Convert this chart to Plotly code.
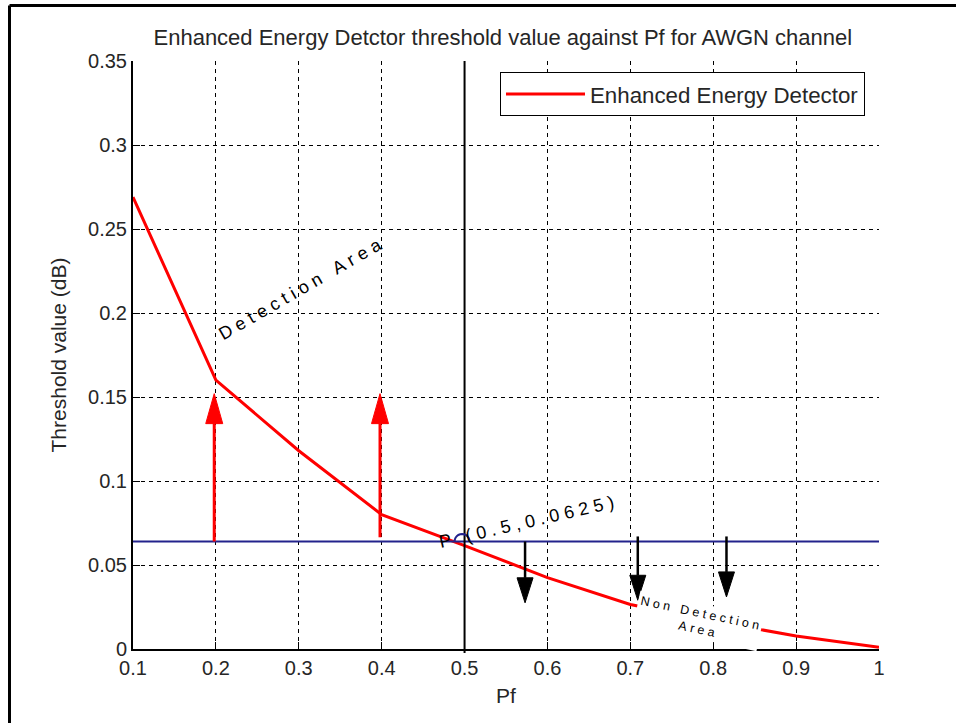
import math
import plotly.graph_objects as go

# ---- data ----
pf = [0.1, 0.2, 0.3, 0.4, 0.5, 0.6, 0.7, 0.8, 0.9, 1.0]
threshold = [0.269, 0.160, 0.118, 0.080, 0.0615, 0.0425, 0.0265, 0.0165, 0.0078, 0.001]
threshold_level = 0.064          # horizontal reference line (P = 0.0625)
cross_pf = 0.5                   # vertical line
up_arrow_x = [0.198, 0.398]
up_arrow_from = [0.064, 0.0665]
up_arrow_to = [0.152, 0.152]
down_arrow_x = [0.573, 0.709, 0.816]
down_arrow_from = [0.064, 0.067, 0.067]
down_arrow_to = [0.0275, 0.029, 0.031]
x_ticks = [0.1, 0.2, 0.3, 0.4, 0.5, 0.6, 0.7, 0.8, 0.9, 1.0]
x_tick_text = ["0.1", "0.2", "0.3", "0.4", "0.5", "0.6", "0.7", "0.8", "0.9", "1"]
y_ticks = [0, 0.05, 0.1, 0.15, 0.2, 0.25, 0.3, 0.35]
y_tick_text = ["0", "0.05", "0.1", "0.15", "0.2", "0.25", "0.3", "0.35"]

W, H = 956, 723
ML, MR, MT, MB = 133, 77, 61, 74
PW, PH = W - ML - MR, H - MT - MB
XR, YR = (0.1, 1.0), (0.0, 0.35)
px_x = (XR[1] - XR[0]) / PW   # data units per pixel
px_y = (YR[1] - YR[0]) / PH

FONT = "Liberation Sans, Arial, sans-serif"
TXT = "#262626"
NAVY = "#23238c"

fig = go.Figure()
fig.add_trace(go.Scatter(x=pf, y=threshold, mode="lines",
                         line=dict(color="#ff0000", width=3),
                         name="Enhanced Energy Detector", showlegend=True))

shapes = []
# horizontal threshold line
shapes.append(dict(type="line", xref="x", yref="y", x0=XR[0], x1=XR[1],
                   y0=threshold_level, y1=threshold_level,
                   line=dict(color=NAVY, width=2)))
# vertical line at Pf = 0.5
shapes.append(dict(type="line", xref="x", yref="paper", x0=cross_pf, x1=cross_pf,
                   y0=-0.007, y1=1, line=dict(color="black", width=2)))
# blue arc (upper half circle, radius ~7.5 px) at the crossing point
cx = cross_pf - 0.003
r_px = 7.5
pts = []
for i in range(0, 13):
    t = math.pi * i / 12
    pts.append((cx + r_px * math.cos(t) * px_x, threshold_level + r_px * math.sin(t) * px_y))
arc_path = "M " + " L ".join(f"{a},{b}" for a, b in pts)
shapes.append(dict(type="path", xref="x", yref="y", path=arc_path,
                   line=dict(color=NAVY, width=2), layer="above"))


def arrow(x, y0, y1, color, lw, head_len, head_w):
    d = 1 if y1 > y0 else -1
    base = y1 - d * head_len * px_y
    hw = head_w / 2 * px_x
    out = [dict(type="line", xref="x", yref="y", x0=x, x1=x, y0=y0, y1=base,
                line=dict(color=color, width=lw), layer="above"),
           dict(type="path", xref="x", yref="y",
                path=f"M {x - hw},{base} L {x + hw},{base} L {x},{y1} Z",
                fillcolor=color, line=dict(color=color, width=1), layer="above")]
    return out


for x, a, b in zip(up_arrow_x, up_arrow_from, up_arrow_to):
    shapes += arrow(x, a, b, "#ff0000", 3, 30, 17)
for x, a, b in zip(down_arrow_x, down_arrow_from, down_arrow_to):
    shapes += arrow(x, a, b, "black", 2.5, 25, 16)

# outer figure frame (left and top edges)
fx0 = (9.5 - ML) / PW
fy1 = 1 + (MT - 5.5) / PH
shapes.append(dict(type="line", xref="paper", yref="paper", x0=fx0, x1=fx0,
                   y0=-(MB + 5) / PH, y1=fy1, line=dict(color="black", width=3)))
shapes.append(dict(type="line", xref="paper", yref="paper", x0=fx0, x1=(W - ML + 5) / PW,
                   y0=fy1, y1=fy1, line=dict(color="black", width=3)))


def spaced(s):
    return "\u00a0".join(list(s)).replace("\u00a0 \u00a0", "\u00a0\u00a0\u00a0")


annotations = [
    dict(text=spaced("Detection Area"), x=0.302, y=0.214, xref="x", yref="y",
         showarrow=False, textangle=-30, font=dict(family=FONT, size=18, color="black")),
    dict(text="P\u00a0\u00a0\u00a0" + spaced("(0.5,0.0625)"), x=0.575, y=0.0757,
         xref="x", yref="y",
         showarrow=False, textangle=-13, font=dict(family=FONT, size=18, color="black")),
    dict(text=spaced("Non Detection") + "<br>" + spaced("Area"), x=0.782, y=0.0168,
         xref="x", yref="y", showarrow=False, textangle=12, bgcolor="white",
         font=dict(family=FONT, size=12.5, color="black"), borderpad=2),
]

fig.update_layout(
    width=W, height=H,
    margin=dict(l=ML, r=MR, t=MT, b=MB, pad=0),
    paper_bgcolor="white", plot_bgcolor="white",
    font=dict(family=FONT, color=TXT, size=20),
    title=dict(text="Enhanced Energy Detctor threshold value against Pf for AWGN channel",
               x=0.526, xanchor="center", y=1 - 37 / H, yanchor="middle",
               font=dict(family=FONT, size=22, color=TXT)),
    xaxis=dict(range=list(XR), tickvals=x_ticks, ticktext=x_tick_text,
               showgrid=True, gridcolor="black", griddash="4px,4px", gridwidth=1,
               showline=True, linecolor="black", linewidth=2, mirror=False,
               ticks="inside", ticklen=7, tickcolor="black", zeroline=False,
               tickfont=dict(size=20, color=TXT),
               title=dict(text="Pf", standoff=10, font=dict(size=21, color=TXT))),
    yaxis=dict(range=list(YR), tickvals=y_ticks, ticktext=y_tick_text,
               showgrid=True, gridcolor="black", griddash="4px,4px", gridwidth=1,
               showline=True, linecolor="black", linewidth=2, mirror=False,
               ticks="inside", ticklen=7, tickcolor="black", zeroline=False,
               tickfont=dict(size=20, color=TXT),
               title=dict(text="Threshold value (dB)", standoff=16,
                          font=dict(size=21, color=TXT))),
    legend=dict(x=(500 - ML) / PW, y=1 - (72 - MT) / PH, xanchor="left", yanchor="top",
                bgcolor="white", bordercolor="black", borderwidth=1,
                font=dict(size=22.3, color=TXT), itemwidth=79),
    shapes=shapes,
    annotations=annotations,
)

fig.write_html("out.html", config={"displayModeBar": False},
               post_script="document.body.style.margin='0';")
